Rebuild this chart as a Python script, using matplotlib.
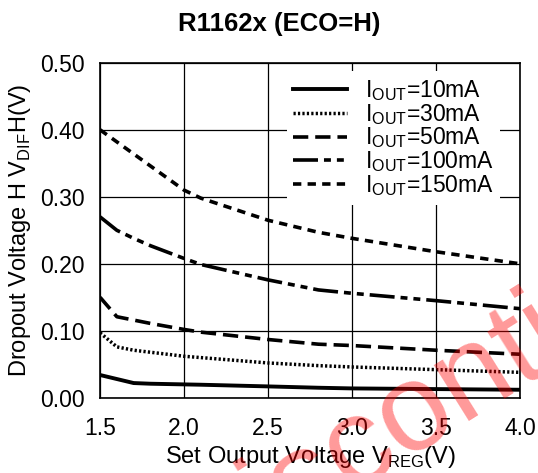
import matplotlib
matplotlib.use("Agg")
import matplotlib.pyplot as plt

plt.rcParams["font.family"] = ["Liberation Sans", "DejaVu Sans"]
plt.rcParams["mathtext.fontset"] = "custom"
plt.rcParams["mathtext.rm"] = "Liberation Sans"
plt.rcParams["lines.scale_dashes"] = False

# Data
v_reg = [1.5, 1.6, 1.7, 1.8, 2.0, 2.1, 2.5, 2.8, 3.0, 3.5, 4.0]
vdif_10ma = [0.034, 0.028, 0.022, 0.021, 0.020, 0.0195, 0.017, 0.015, 0.014, 0.013, 0.012]
vdif_30ma = [0.097, 0.076, 0.071, 0.068, 0.062, 0.060, 0.052, 0.048, 0.046, 0.042, 0.038]
vdif_50ma = [0.150, 0.121, 0.116, 0.111, 0.102, 0.098, 0.087, 0.080, 0.078, 0.071, 0.065]
vdif_100ma = [0.270, 0.250, 0.238, 0.227, 0.208, 0.199, 0.176, 0.161, 0.156, 0.145, 0.133]
vdif_150ma = [0.400, 0.382, 0.364, 0.346, 0.310, 0.298, 0.265, 0.247, 0.238, 0.218, 0.200]

series = [vdif_10ma, vdif_30ma, vdif_50ma, vdif_100ma, vdif_150ma]
labels = [r"I$_{\mathregular{OUT}}$=10mA", r"I$_{\mathregular{OUT}}$=30mA",
          r"I$_{\mathregular{OUT}}$=50mA", r"I$_{\mathregular{OUT}}$=100mA",
          r"I$_{\mathregular{OUT}}$=150mA"]
x_ticks = [1.5, 2.0, 2.5, 3.0, 3.5, 4.0]
y_ticks = [0.0, 0.1, 0.2, 0.3, 0.4, 0.5]

# line styles (dash lengths in points)
styles = [
    dict(linestyle="-", linewidth=2.8),
    dict(linestyle=(0, (1.6, 1.6)), linewidth=2.5),
    dict(linestyle=(0, (11, 5)), linewidth=2.6),
    dict(linestyle=(0, (18, 4.3, 5, 4.3, 5, 4.3)), linewidth=2.6),
    dict(linestyle=(0, (6, 4.5)), linewidth=2.6),
]

fig = plt.figure(figsize=(5.38, 4.73), dpi=100)
ax = fig.add_axes([0.186, 0.159, 0.7805, 0.7082])

for vals, lab, st in zip(series, labels, styles):
    ax.plot(v_reg, vals, color="black", label=lab, **st)

ax.set_xlim(1.5, 4.0)
ax.set_ylim(0.0, 0.5)
ax.set_xticks(x_ticks)
ax.set_xticklabels([f"{t:.1f}" for t in x_ticks])
ax.set_yticks(y_ticks)
ax.set_yticklabels([f"{t:.2f}" for t in y_ticks])
ax.tick_params(length=0, labelsize=16.5)
ax.tick_params(axis="x", pad=14)
ax.tick_params(axis="y", pad=11)
ax.grid(True, color="black", linewidth=0.9)
for sp in ax.spines.values():
    sp.set_linewidth(1.2)

ax.set_xlabel(r"Set Output Voltage V$_{\mathregular{REG}}$(V)", fontsize=17, labelpad=3)
ax.set_ylabel(r"Dropout Voltage H V$_{\mathregular{DIF}}$H(V)", fontsize=17, labelpad=5)

fig.text(0.519, 0.949, "R1162x (ECO=H)", fontsize=18.5, fontweight="bold",
         ha="center", va="center")

# Legend
legend = ax.legend(loc="upper left", bbox_to_anchor=(0.444, 0.975), fontsize=16.5,
                   handlelength=2.36, handletextpad=0.75, labelspacing=-0.05,
                   borderpad=0.3, borderaxespad=0, fancybox=False, framealpha=1)
legend.get_frame().set_linewidth(0)

# Watermark
fig.text(0.365, -0.237, "Discontinued", fontsize=90, color="red", alpha=0.4,
         rotation=32, rotation_mode="anchor", ha="left", va="baseline", zorder=10)

plt.savefig("out.png", dpi=100)
